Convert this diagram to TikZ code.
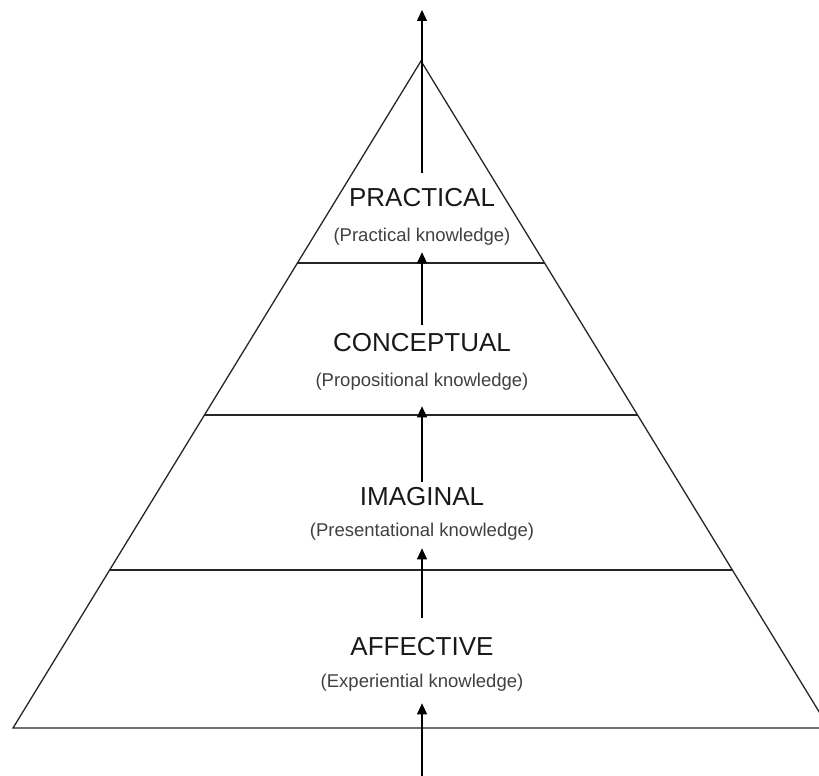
\documentclass[tikz,border=0pt]{standalone}
\usepackage{fontspec}
\setmainfont{Liberation Sans}
\usetikzlibrary{
  arrows.meta,
  calc,
  positioning
}

\begin{document}
\begin{tikzpicture}[
  x=1pt, y=-1pt,
  >={Triangle[length=11pt,width=10pt]},
  edge/.style={draw=black!85, line width=1.3pt},
  level/.style={font=\fontsize{26}{30}\selectfont, text=black!90, inner sep=0pt},
  kind/.style={font=\fontsize{18.5}{22}\selectfont, text=black!75, inner sep=0pt},
  arr/.style={->, line width=1.3pt},
]
  \clip (0,0) rectangle (819,776);

  % Pyramid
  \coordinate (apex) at (421,61);
  \coordinate (L) at (13,728);
  \coordinate (R) at (829,728);
  \draw[edge] (L) -- (apex) -- (R) -- cycle;
  \foreach \y in {263, 415, 570} {
    \draw[edge] ($(apex)!{(\y-61)/667}!(L)$) -- ($(apex)!{(\y-61)/667}!(R)$);
  }

  % Levels
  \node[level] (prac) at (422,198) {PRACTICAL};
  \node[kind] (pracsub) at (422,237) {(Practical knowledge)};
  \node[level] (conc) at (422,343) {CONCEPTUAL};
  \node[kind] (concsub) at (422,382) {(Propositional knowledge)};
  \node[level] (imag) at (422,497) {IMAGINAL};
  \node[kind] (imagsub) at (422,532) {(Presentational knowledge)};
  \node[level] (affe) at (422,647) {AFFECTIVE};
  \node[kind] (affesub) at (422,683) {(Experiential knowledge)};

  % Arrows
  \coordinate (top) at (422,10);
  \coordinate (bot) at (422,776);
  \draw[arr, shorten <=16pt] (prac) -- (top);
  \draw[arr, shorten <=9pt, shorten >=6.5pt] (conc) -- (pracsub);
  \draw[arr, shorten <=6pt, shorten >=15.5pt] (imag) -- (concsub);
  \draw[arr, shorten <=20pt, shorten >=7.5pt] (affe) -- (imagsub);
  \draw[arr, shorten >=11.5pt] (bot) -- (affesub);
\end{tikzpicture}
\end{document}
